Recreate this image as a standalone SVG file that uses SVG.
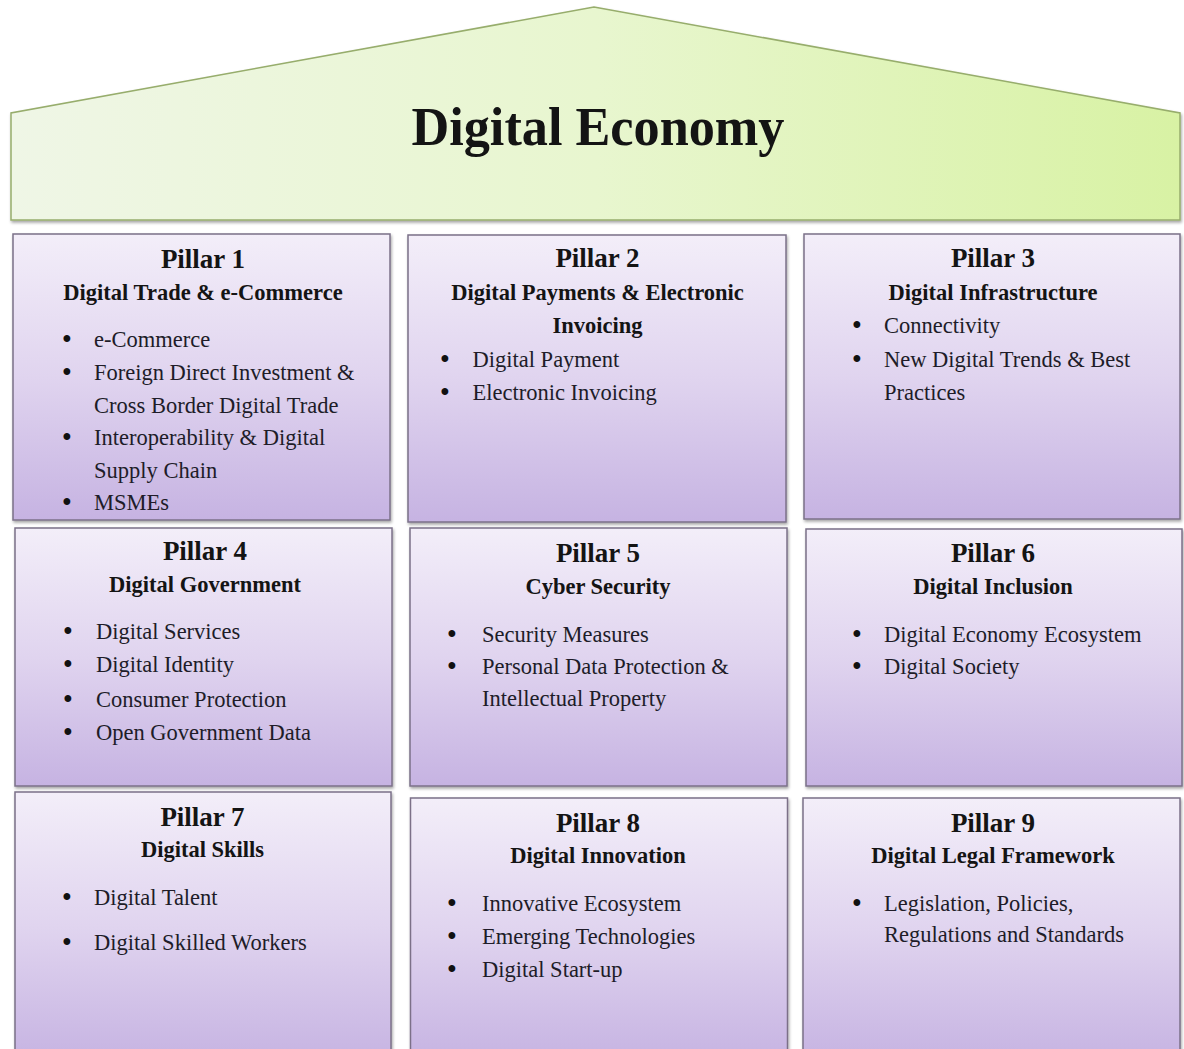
<svg xmlns="http://www.w3.org/2000/svg" width="1184" height="1049" viewBox="0 0 1184 1049">
<defs>
<linearGradient id="roofGrad" x1="0" y1="0" x2="1" y2="0">
<stop offset="0" stop-color="#eff6e6"/>
<stop offset="0.5" stop-color="#e8f6cf"/>
<stop offset="1" stop-color="#d8f2a4"/>
</linearGradient>
<linearGradient id="boxGrad" x1="0" y1="0" x2="0" y2="1">
<stop offset="0" stop-color="#f3eef9"/>
<stop offset="0.5" stop-color="#e0d4ef"/>
<stop offset="1" stop-color="#c6b3e2"/>
</linearGradient>
<filter id="shadow" x="-5%" y="-5%" width="110%" height="115%">
<feDropShadow dx="1" dy="2" stdDeviation="1.5" flood-color="#000" flood-opacity="0.35"/>
</filter>
<style>
.box{fill:url(#boxGrad);stroke:#7b7088;stroke-width:1.5;filter:url(#shadow)}
.t{font-family:"Liberation Serif","Times New Roman",serif;fill:#141414}
.ptitle{font-size:27px;font-weight:bold;text-anchor:middle}
.sub{font-size:22.5px;font-weight:bold;text-anchor:middle}
.b{font-size:22.5px;fill:#201c28}
.dot{font-family:"Liberation Sans",Arial,sans-serif;font-size:25px;text-anchor:middle;fill:#111}
</style>
</defs>
<rect width="1184" height="1049" fill="#ffffff"/>

<g id="roof">
<polygon points="11,220 11,113 594,7 1180,113 1180,220" fill="url(#roofGrad)" stroke="#97ad6c" stroke-width="1.5" filter="url(#shadow)"/>
<text class="t" x="598" y="145" font-size="55" font-weight="bold" text-anchor="middle" textLength="373" lengthAdjust="spacingAndGlyphs">Digital Economy</text>
</g>

<g id="connectors"></g>

<g id="pillar1">
<rect class="box" x="13" y="234" width="377" height="286"/>
<text class="t ptitle" x="203" y="267.5">Pillar 1</text>
<text class="t sub" x="203" y="300">Digital Trade &amp; e-Commerce</text>
<text class="dot" x="67" y="347">•</text><text class="t b" x="94" y="347">e-Commerce</text>
<text class="dot" x="67" y="380">•</text><text class="t b" x="94" y="380">Foreign Direct Investment &amp;</text>
<text class="t b" x="94" y="412.5">Cross Border Digital Trade</text>
<text class="dot" x="67" y="445">•</text><text class="t b" x="94" y="445">Interoperability &amp; Digital</text>
<text class="t b" x="94" y="477.5">Supply Chain</text>
<text class="dot" x="67" y="510">•</text><text class="t b" x="94" y="510">MSMEs</text>
</g>

<g id="pillar2">
<rect class="box" x="408" y="235" width="378" height="287"/>
<text class="t ptitle" x="597.5" y="267">Pillar 2</text>
<text class="t sub" x="597.5" y="300">Digital Payments &amp; Electronic</text>
<text class="t sub" x="597.5" y="332.5">Invoicing</text>
<text class="dot" x="445" y="366.5">•</text><text class="t b" x="472.5" y="366.5">Digital Payment</text>
<text class="dot" x="445" y="400">•</text><text class="t b" x="472.5" y="400">Electronic Invoicing</text>
</g>

<g id="pillar3">
<rect class="box" x="804" y="234" width="376" height="285"/>
<text class="t ptitle" x="993" y="267">Pillar 3</text>
<text class="t sub" x="993" y="300">Digital Infrastructure</text>
<text class="dot" x="857" y="333">•</text><text class="t b" x="884" y="333">Connectivity</text>
<text class="dot" x="857" y="366.5">•</text><text class="t b" x="884" y="366.5">New Digital Trends &amp; Best</text>
<text class="t b" x="884" y="400">Practices</text>
</g>

<g id="pillar4">
<rect class="box" x="15" y="528" width="377" height="258"/>
<text class="t ptitle" x="205" y="560">Pillar 4</text>
<text class="t sub" x="205" y="592">Digital Government</text>
<text class="dot" x="68" y="638.5">•</text><text class="t b" x="96" y="638.5">Digital Services</text>
<text class="dot" x="68" y="672">•</text><text class="t b" x="96" y="672">Digital Identity</text>
<text class="dot" x="68" y="706.5">•</text><text class="t b" x="96" y="706.5">Consumer Protection</text>
<text class="dot" x="68" y="739.5">•</text><text class="t b" x="96" y="739.5">Open Government Data</text>
</g>

<g id="pillar5">
<rect class="box" x="410" y="528" width="377" height="258"/>
<text class="t ptitle" x="598" y="562">Pillar 5</text>
<text class="t sub" x="598" y="594">Cyber Security</text>
<text class="dot" x="452" y="641.5">•</text><text class="t b" x="482" y="641.5">Security Measures</text>
<text class="dot" x="452" y="674">•</text><text class="t b" x="482" y="674">Personal Data Protection &amp;</text>
<text class="t b" x="482" y="706">Intellectual Property</text>
</g>

<g id="pillar6">
<rect class="box" x="806" y="529" width="376" height="257"/>
<text class="t ptitle" x="993" y="562">Pillar 6</text>
<text class="t sub" x="993" y="594">Digital Inclusion</text>
<text class="dot" x="857" y="641.5">•</text><text class="t b" x="884" y="641.5">Digital Economy Ecosystem</text>
<text class="dot" x="857" y="673.5">•</text><text class="t b" x="884" y="673.5">Digital Society</text>
</g>

<g id="pillar7">
<rect class="box" x="15" y="792" width="376" height="270"/>
<text class="t ptitle" x="202.5" y="825.5">Pillar 7</text>
<text class="t sub" x="202.5" y="857">Digital Skills</text>
<text class="dot" x="67" y="905">•</text><text class="t b" x="94" y="905">Digital Talent</text>
<text class="dot" x="67" y="950">•</text><text class="t b" x="94" y="950">Digital Skilled Workers</text>
</g>

<g id="pillar8">
<rect class="box" x="410.5" y="798" width="377" height="264"/>
<text class="t ptitle" x="598" y="831.5">Pillar 8</text>
<text class="t sub" x="598" y="863">Digital Innovation</text>
<text class="dot" x="452" y="910.5">•</text><text class="t b" x="482" y="910.5">Innovative Ecosystem</text>
<text class="dot" x="452" y="944">•</text><text class="t b" x="482" y="944">Emerging Technologies</text>
<text class="dot" x="452" y="977">•</text><text class="t b" x="482" y="977">Digital Start-up</text>
</g>

<g id="pillar9">
<rect class="box" x="803" y="798" width="377" height="264"/>
<text class="t ptitle" x="993" y="831.5">Pillar 9</text>
<text class="t sub" x="993" y="863">Digital Legal Framework</text>
<text class="dot" x="857" y="910.5">•</text><text class="t b" x="884" y="910.5">Legislation, Policies,</text>
<text class="t b" x="884" y="941.5">Regulations and Standards</text>
</g>
</svg>
